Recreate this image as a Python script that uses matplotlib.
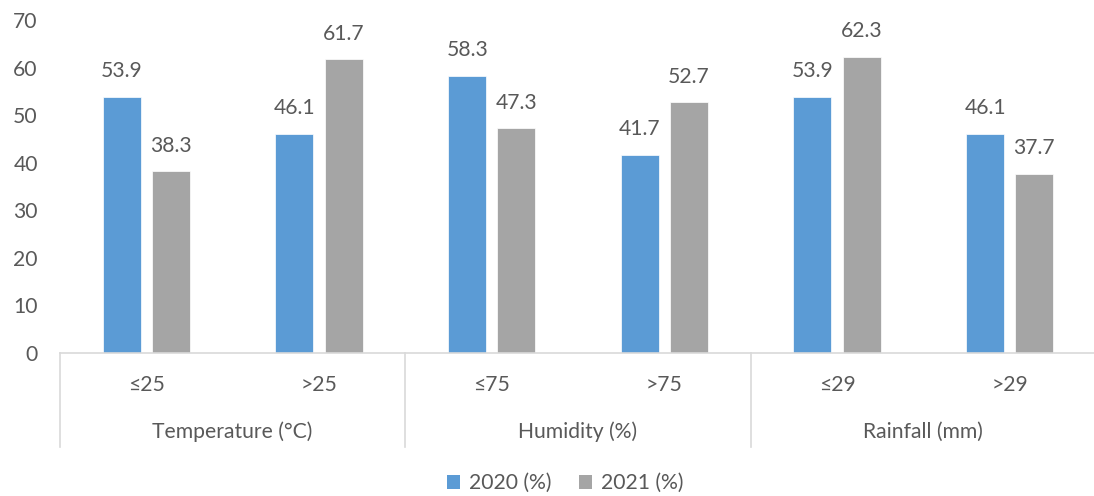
import numpy as np
import matplotlib.pyplot as plt
from matplotlib.patches import Patch
import matplotlib.transforms as mtransforms

# data
groups = ["Temperature (°C)", "Humidity (%)", "Rainfall (mm)"]
sub_labels = ["≤25", ">25", "≤75", ">75", "≤29", ">29"]
vals_2020 = [53.9, 46.1, 58.3, 41.7, 53.9, 46.1]
vals_2021 = [38.3, 61.7, 47.3, 52.7, 62.3, 37.7]
series_names = ["2020 (%)", "2021 (%)"]

blue = "#5B9BD5"
grey = "#A5A5A5"
txt = "#595959"
line_c = "#D9D9D9"
fs = 15.2

plt.rcParams['font.family'] = ['Lato', 'DejaVu Sans']
plt.rcParams['font.size'] = fs

fig = plt.figure(figsize=(10.94, 4.96), dpi=100)
ax = fig.add_axes([60/1094, (496-353)/496, 1036/1094, 333/496])

x = np.arange(len(sub_labels))
w = 0.22
off = 0.142
b1 = ax.bar(x - off, vals_2020, w, color=blue, edgecolor="white", linewidth=0.5)
b2 = ax.bar(x + off, vals_2021, w, color=grey, edgecolor="white", linewidth=0.5)

for bars, vals in [(b1, vals_2020), (b2, vals_2021)]:
    for b, v in zip(bars, vals):
        ax.annotate(f"{v}", (b.get_x() + b.get_width()/2, v), xytext=(0, 11),
                    textcoords="offset points", ha="center", va="bottom",
                    color=txt, fontsize=fs)

ax.set_xlim(-0.5, len(sub_labels) - 0.5)
ax.set_ylim(0, 70)
ax.set_yticks(range(0, 71, 10))
ax.tick_params(axis="y", length=0, colors=txt, labelsize=fs, pad=16)
ax.set_xticks([])
for s in ["top", "right", "left"]:
    ax.spines[s].set_visible(False)
ax.spines["bottom"].set_color(line_c)
ax.spines["bottom"].set_linewidth(1.2)

# two level category axis
trans = mtransforms.blended_transform_factory(ax.transData, ax.transAxes)
for xi, lab in zip(x, sub_labels):
    ax.text(xi, -32/333, lab, transform=trans, ha="center", va="center",
            color=txt, fontsize=fs)
for gi, g in enumerate(groups):
    ax.text(gi*2 + 0.5, -79/333, g, transform=trans, ha="center", va="center",
            color=txt, fontsize=fs)
for sx in [-0.5, 1.5, 3.5, 5.5]:
    ax.plot([sx, sx], [0, -94/333], transform=trans, color=line_c,
            linewidth=1.2, clip_on=False)

handles = [Patch(facecolor=blue), Patch(facecolor=grey)]
fig.legend(handles, series_names, loc="center", bbox_to_anchor=(565/1094, 1 - 483/496),
           ncol=2, frameon=False, fontsize=fs, handlelength=0.65, handleheight=0.65,
           handletextpad=0.4, columnspacing=1.3, labelcolor=txt)

fig.savefig("out.png", dpi=100)
